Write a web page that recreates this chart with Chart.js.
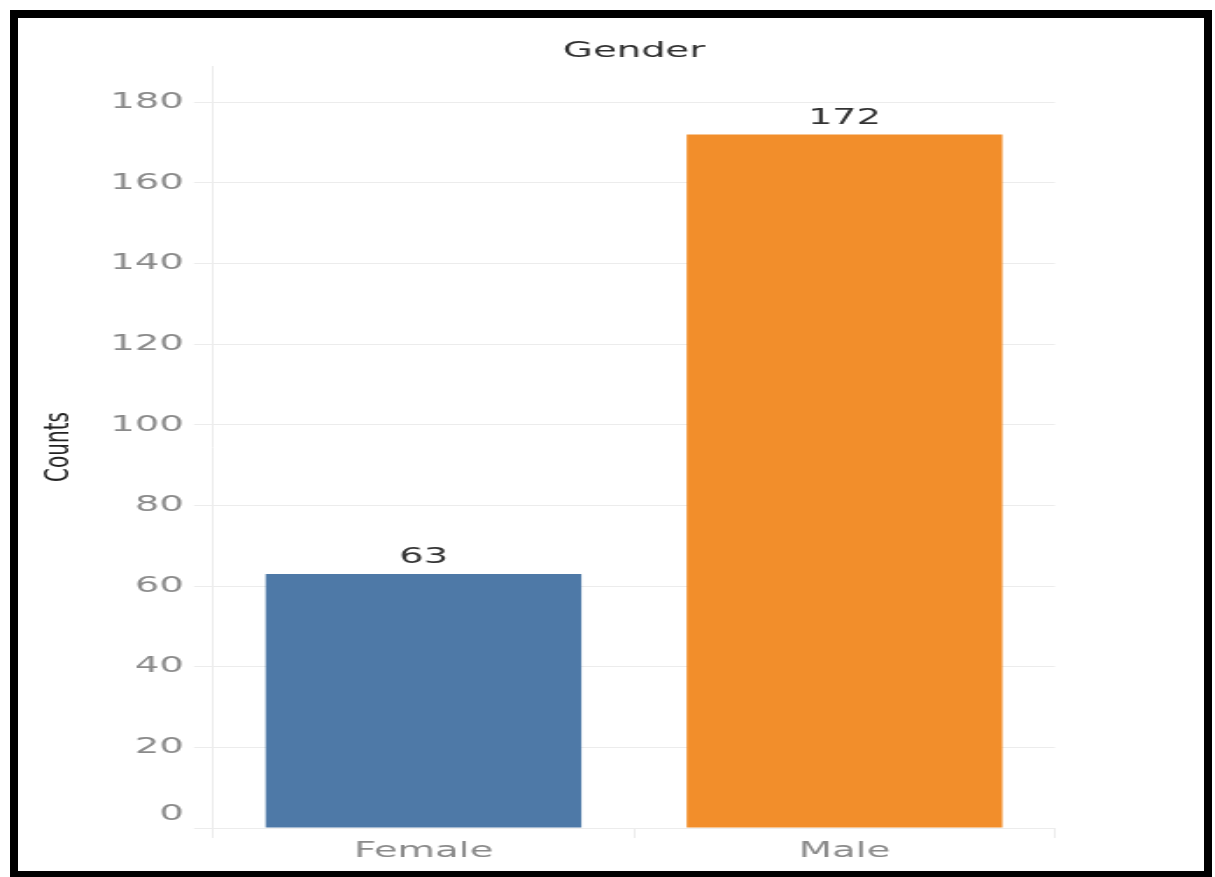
<!DOCTYPE html>
<html>
<head>
<meta charset="utf-8">
<script src="https://cdn.jsdelivr.net/npm/chart.js@4"></script>
<style>
  html, body { margin: 0; background: #fff; overflow: hidden; }
  /* chart is laid out narrow and stretched sideways, wide text like the dashboard export */
  #wrap { position: absolute; left: 0; top: 0; width: 694px; height: 877px; transform: scaleX(1.750720); transform-origin: 0 0; }
  #frame { position: absolute; left: 10px; top: 10px; width: 1202px; height: 869px; box-sizing: border-box; border: 8px solid #000; pointer-events: none; }
</style>
</head>
<body>
<div id="wrap"><canvas id="gender_chart" width="694" height="877"></canvas></div>
<div id="frame"></div>
<script>
const categories = ['Female', 'Male'];
const counts = [63, 172];
const barColors = ['#4e79a7', '#f28e2b'];
const yMax = 189;
const yStep = 20;

const stretch = 1215 / 694;
const canvasX = v => v / stretch;
const family = '"DejaVu Sans", sans-serif';
const gridColor = '#ececec';
const tickColor = '#8a8a8a';

const valueLabels = {
    id: 'valueLabels',
    afterDatasetsDraw(chart) {
        const ctx = chart.ctx;
        ctx.save();
        ctx.font = '22px ' + family;
        ctx.fillStyle = '#333';
        ctx.textAlign = 'center';
        ctx.textBaseline = 'alphabetic';
        chart.getDatasetMeta(0).data.forEach((bar, i) => {
            ctx.fillText(counts[i], bar.x, bar.y - 11);
        });
        // the zero label sits a bit above its gridline
        const y = chart.scales.y;
        ctx.fillStyle = tickColor;
        ctx.textAlign = 'right';
        ctx.textBaseline = 'middle';
        ctx.fillText('0', y.right - canvasX(29), y.getPixelForValue(0) - 14);
        ctx.restore();
    }
};

new Chart(document.getElementById('gender_chart'), {
    type: 'bar',
    data: {
        labels: categories,
        datasets: [{
            label: 'Counts',
            data: counts,
            backgroundColor: barColors,
            borderWidth: 0,
            categoryPercentage: 0.75,
            barPercentage: 1
        }]
    },
    options: {
        responsive: false,
        animation: false,
        devicePixelRatio: 1,
        layout: { padding: { left: 0, top: 0, bottom: 0, right: 694 - canvasX(1055) } },
        plugins: {
            legend: { display: false },
            tooltip: { enabled: false },
            title: {
                display: true,
                text: 'Gender',
                fullSize: false,
                color: '#2e2e2e',
                font: { family: family, size: 22, weight: 'normal' },
                padding: { top: 38, bottom: 1.6 }
            }
        },
        scales: {
            x: {
                ticks: { color: tickColor, font: { family: family, size: 22 }, padding: 0 },
                grid: { drawOnChartArea: false, color: gridColor, tickLength: 10, offset: true },
                border: { color: gridColor },
                afterFit: axis => { axis.height = 49; }
            },
            y: {
                min: 0,
                max: yMax,
                ticks: {
                    stepSize: yStep,
                    color: tickColor,
                    font: { family: family, size: 22 },
                    padding: canvasX(10),
                    callback: v => v === 0 ? '' : v
                },
                afterBuildTicks: axis => {
                    axis.ticks = axis.ticks.filter(t => t.value % yStep === 0);
                },
                afterFit: axis => { axis.width = canvasX(213); },
                grid: { color: gridColor, tickLength: canvasX(19) },
                border: { color: gridColor },
                title: {
                    display: true,
                    text: 'Counts',
                    color: '#222',
                    font: { family: family, size: 20 },
                    padding: { top: 22, bottom: 0 }
                }
            }
        }
    },
    plugins: [valueLabels]
});
</script>
</body>
</html>
